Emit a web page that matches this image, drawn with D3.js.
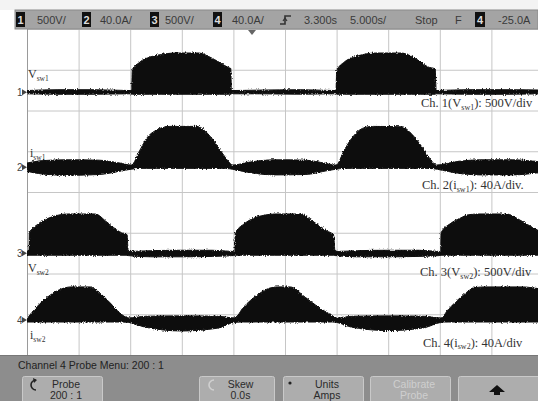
<!DOCTYPE html>
<html><head><meta charset="utf-8">
<script src="https://cdn.jsdelivr.net/npm/d3@7"></script>
<style>body{margin:0;background:#fff;overflow:hidden}svg{display:block}</style>
</head><body><svg id="c" width="538" height="401"></svg>
<script>
// ---------- DATA ----------
const timeDivisions = [0,1,2,3,4,5,6,7,8,9,10];
const levelDivisions = [-4,-3,-2,-1,0,1,2,3,4];
const channelNames = ["1","2","3","4"];
const channelOffsets = [2.45, 0.61, -1.5, -3.14];      // ground level (divisions)
const channelSymbols = ["V","i","V","i"];
const channelSubs = ["sw1","sw1","sw2","sw2"];
const channelScales = ["500V/div","40A/div.","500V/div","40A/div"];
const topBarScales = ["500V/","40.0A/","500V/","40.0A/"];
const timeTexts = ["3.300s","5.000s/","Stop","F"];
const triggerChannel = "4";
const triggerLevel = "-25.0A";
const menuTitle = "Channel 4  Probe Menu: 200 : 1";
const softKeys = [["Probe","200 : 1"],["Skew","0.0s"],["Units","Amps"],["Calibrate","Probe"],["",""]];

// envelopes: [time (div), upper (div), lower (div)] relative to channel ground
const ch1Envelope = [
 [0,0.04,-0.04],[0.6,0.06,-0.05],[1.3,0.06,-0.05],[2.0,0.04,-0.04],
 [2.03,0.04,-0.05],[2.04,0.52,-0.05],[2.19,0.74,-0.05],[2.38,0.86,-0.05],[2.58,0.92,-0.05],[2.88,0.96,-0.05],[3.33,0.96,-0.05],[3.53,0.87,-0.05],[3.73,0.73,-0.05],[3.91,0.6,-0.05],[3.95,0.58,-0.05],[3.96,0.04,-0.04],
 [4.5,0.05,-0.04],[5.3,0.06,-0.05],[5.97,0.04,-0.04],
 [5.99,0.04,-0.05],[6.0,0.52,-0.05],[6.15,0.74,-0.05],[6.34,0.86,-0.05],[6.54,0.93,-0.05],[6.75,0.96,-0.05],[7.25,0.96,-0.05],[7.45,0.88,-0.05],[7.62,0.75,-0.05],[7.77,0.62,-0.05],[7.91,0.57,-0.05],[7.93,0.04,-0.04],
 [8.5,0.06,-0.05],[9.3,0.06,-0.05],[10,0.05,-0.04]
];
const ch2Envelope = [
 [0,0.1,-0.1],[0.3,0.16,-0.17],[0.8,0.18,-0.2],[1.4,0.17,-0.18],[1.8,0.1,-0.1],[2.02,0.05,-0.05],
 [2.19,0.42,-0.03],[2.32,0.71,-0.03],[2.51,0.91,-0.03],[2.77,1.0,-0.03],[3.29,1.0,-0.03],[3.58,0.71,-0.03],[3.77,0.37,-0.03],[3.93,0.1,-0.04],[3.98,0.05,-0.05],
 [4.3,0.12,-0.13],[4.8,0.18,-0.19],[5.4,0.17,-0.18],[5.8,0.09,-0.09],[5.99,0.05,-0.05],
 [6.15,0.42,-0.03],[6.29,0.7,-0.03],[6.5,0.95,-0.03],[6.7,1.0,-0.03],[7.25,0.99,-0.03],[7.5,0.75,-0.03],[7.65,0.5,-0.03],[7.8,0.22,-0.03],[7.94,0.05,-0.05],
 [8.3,0.13,-0.14],[8.8,0.18,-0.19],[9.4,0.18,-0.19],[10,0.12,-0.12]
];
const ch3Envelope = [
 [0,0.04,-0.05],[0.04,0.04,-0.05],[0.045,0.49,-0.05],[0.2,0.7,-0.05],[0.4,0.85,-0.05],[0.6,0.93,-0.05],[0.78,0.96,-0.05],[1.32,0.96,-0.05],[1.55,0.76,-0.05],[1.8,0.52,-0.05],[1.94,0.45,-0.05],[1.96,0.04,-0.06],
 [2.4,0.06,-0.09],[3.0,0.07,-0.09],[3.6,0.07,-0.08],[4.0,0.04,-0.06],
 [4.03,0.04,-0.05],[4.035,0.49,-0.05],[4.2,0.71,-0.05],[4.4,0.86,-0.05],[4.6,0.93,-0.05],[4.8,0.96,-0.05],[5.3,0.96,-0.05],[5.52,0.8,-0.05],[5.8,0.55,-0.05],[5.94,0.45,-0.05],[5.97,0.04,-0.06],
 [6.4,0.06,-0.09],[7.0,0.07,-0.09],[7.6,0.07,-0.08],[8.0,0.04,-0.06],
 [8.02,0.04,-0.05],[8.025,0.5,-0.05],[8.2,0.72,-0.05],[8.4,0.86,-0.05],[8.55,0.94,-0.05],[8.75,0.96,-0.05],[9.3,0.96,-0.05],[9.5,0.85,-0.05],[9.7,0.7,-0.05],[9.9,0.56,-0.05],[10,0.5,-0.05]
];
const ch4Envelope = [
 [0,0.03,-0.05],[0.19,0.32,-0.05],[0.45,0.61,-0.05],[0.74,0.79,-0.05],[0.85,0.81,-0.05],[1.22,0.81,-0.05],[1.41,0.66,-0.05],[1.61,0.42,-0.05],[1.8,0.17,-0.05],[1.97,0.05,-0.06],
 [2.3,0.09,-0.18],[3.0,0.1,-0.27],[3.7,0.09,-0.2],[4.02,0.05,-0.06],
 [4.2,0.32,-0.05],[4.45,0.6,-0.05],[4.7,0.78,-0.05],[4.85,0.81,-0.05],[5.1,0.81,-0.05],[5.39,0.56,-0.05],[5.64,0.32,-0.05],[5.9,0.12,-0.05],[6.0,0.05,-0.06],
 [6.3,0.09,-0.18],[7.0,0.1,-0.26],[7.7,0.09,-0.19],[8.02,0.05,-0.06],
 [8.16,0.25,-0.05],[8.41,0.56,-0.05],[8.68,0.79,-0.05],[8.85,0.81,-0.05],[9.6,0.81,-0.05],[10,0.74,-0.05]
];
const envelopes = [ch1Envelope, ch2Envelope, ch3Envelope, ch4Envelope];

// ---------- DRAW ----------
const svg = d3.select("#c");
const W = 538, H = 401;
const plot = {left:27, right:543, top:29, bottom:355};
const x = d3.scaleLinear().domain([0,10]).range([plot.left, plot.right]);
const y = d3.scaleLinear().domain([-4,4]).range([plot.bottom, plot.top]);

const defs = svg.append("defs");
const f = defs.append("filter").attr("id","fz").attr("x","-2%").attr("y","-30%").attr("width","104%").attr("height","160%");
f.append("feTurbulence").attr("type","fractalNoise").attr("baseFrequency","0.9 0.6").attr("numOctaves",2).attr("seed",4).attr("result","n");
f.append("feDisplacementMap").attr("in","SourceGraphic").attr("in2","n").attr("scale",3.2).attr("xChannelSelector","R").attr("yChannelSelector","G");
defs.append("clipPath").attr("id","pc").append("rect").attr("x",plot.left).attr("y",plot.top).attr("width",W-plot.left).attr("height",plot.bottom-plot.top);

svg.append("rect").attr("width",W).attr("height",H).attr("fill","#fff");

// grid
const gx = svg.append("g").attr("transform",`translate(0,${plot.bottom})`)
  .call(d3.axisBottom(x).tickValues(timeDivisions).tickSize(-(plot.bottom-plot.top)).tickFormat(""));
gx.select(".domain").remove();
gx.selectAll("line").attr("stroke","#c6c6c6").attr("stroke-width",1);
const gy = svg.append("g").attr("transform",`translate(${plot.left},0)`)
  .call(d3.axisLeft(y).tickValues(levelDivisions).tickSize(-(plot.right-plot.left)).tickFormat(""));
gy.select(".domain").remove();
gy.selectAll("line").attr("stroke","#c6c6c6").attr("stroke-width",1);
svg.append("line").attr("x1",plot.left+0.5).attr("x2",plot.left+0.5).attr("y1",plot.top).attr("y2",plot.bottom).attr("stroke","#9a9a9a");

// waveforms
const wg = svg.append("g").attr("clip-path","url(#pc)").append("g").attr("filter","url(#fz)");
envelopes.forEach((env,i)=>{
  const off = channelOffsets[i];
  const area = d3.area().curve(d3.curveMonotoneX)
    .x(d=>x(d[0])).y0(d=>y(off+d[2])).y1(d=>y(off+d[1]));
  wg.append("path").datum(env).attr("d",area).attr("fill","#0a0a0a").attr("stroke","#0a0a0a").attr("stroke-width",1);
});

// ground markers
channelNames.forEach((n,i)=>{
  const gyv = y(channelOffsets[i]);
  svg.append("text").attr("x",17).attr("y",gyv+4).attr("font-family","Liberation Sans, Arial").attr("font-size",10).attr("fill","#444").text(n);
  svg.append("path").attr("d",`M${22},${gyv-3}L${27},${gyv}L${22},${gyv+3}Z`).attr("fill","#444");
});

// left labels (serif)
const leftDy = [-14,-10,19,19];
const leftDx = [28,30,28,30];
channelSymbols.forEach((s,i)=>{
  const t = svg.append("text").attr("x",leftDx[i]).attr("y",y(channelOffsets[i])+leftDy[i])
    .attr("font-family","Liberation Serif, Times New Roman, serif").attr("font-size",12).attr("fill","#333");
  t.append("tspan").text(s);
  t.append("tspan").attr("font-size",7.5).attr("dy",3).text(channelSubs[i]);
});

// right labels
const rightDy = [15,22,23,27];
const rightX = [421,422,420,423];
channelNames.forEach((n,i)=>{
  const t = svg.append("text").attr("x",rightX[i]).attr("y",y(channelOffsets[i])+rightDy[i])
    .attr("font-family","Liberation Serif, Times New Roman, serif").attr("font-size",12.5).attr("fill","#333");
  t.append("tspan").text(`Ch. ${n}(${channelSymbols[i]}`);
  t.append("tspan").attr("font-size",8).attr("dy",2.5).text(channelSubs[i]);
  t.append("tspan").attr("dy",-2.5).text(`): ${channelScales[i]}`);
});

// trigger position marker
svg.append("path").attr("d","M248,30L256,30L252,35Z").attr("fill","#666");

// top bar
svg.append("rect").attr("x",0).attr("y",0).attr("width",W).attr("height",10).attr("fill","#f3f3f3");
svg.append("rect").attr("x",15).attr("y",10).attr("width",W-15).attr("height",19).attr("fill","#a4a4a4").attr("stroke","#8a8a8a");
const sans = "Liberation Sans, Arial, sans-serif";
const boxX = [16,82,150,213];
const lblX = [37,100,165,232];
channelNames.forEach((n,i)=>{
  svg.append("rect").attr("x",boxX[i]).attr("y",12).attr("width",9).attr("height",15).attr("fill","#111");
  svg.append("text").attr("x",boxX[i]+4.5).attr("y",24).attr("text-anchor","middle").attr("font-family",sans).attr("font-weight","bold").attr("font-size",11).attr("fill","#ddd").text(n);
  svg.append("text").attr("x",lblX[i]).attr("y",24).attr("font-family",sans).attr("font-size",11).attr("fill","#3a3a3a").text(topBarScales[i]);
});
// trigger edge icon
svg.append("path").attr("d","M280,24L285,24L285,16L291,16").attr("fill","none").attr("stroke","#333").attr("stroke-width",1.6);
svg.append("path").attr("d","M283,21L285,18L287,21").attr("fill","none").attr("stroke","#333").attr("stroke-width",1.2);
const ttX = [304,350,415,455];
timeTexts.forEach((t,i)=>{
  svg.append("text").attr("x",ttX[i]).attr("y",24).attr("font-family",sans).attr("font-size",11).attr("fill","#3a3a3a").text(t);
});
svg.append("rect").attr("x",475).attr("y",12).attr("width",10).attr("height",15).attr("fill","#111");
svg.append("text").attr("x",480).attr("y",24).attr("text-anchor","middle").attr("font-family",sans).attr("font-weight","bold").attr("font-size",11).attr("fill","#ddd").text(triggerChannel);
svg.append("text").attr("x",498).attr("y",24).attr("font-family",sans).attr("font-size",11).attr("fill","#3a3a3a").text(triggerLevel);

// bottom panel
svg.append("rect").attr("x",0).attr("y",plot.bottom).attr("width",W).attr("height",H-plot.bottom).attr("fill","#8d8d8d");
svg.append("line").attr("x1",0).attr("x2",W).attr("y1",plot.bottom+0.5).attr("y2",plot.bottom+0.5).attr("stroke","#777");
svg.append("text").attr("x",18).attr("y",369).attr("font-family",sans).attr("font-size",10.5).attr("fill","#222").text(menuTitle);
const keyX = [[22,102],[199,274],[283,363],[370,450],[458,540]];
softKeys.forEach((k,i)=>{
  const [a,b] = keyX[i];
  svg.append("rect").attr("x",a+0.5).attr("y",376.5).attr("width",b-a).attr("height",30).attr("rx",2)
    .attr("fill","#adadad").attr("stroke","#c9c9c9");
  const cx = (a+b)/2 + (i===4?0:4);
  const col = i===3 ? "#cfcfcf" : "#2a2a2a";
  svg.append("text").attr("x",cx).attr("y",388).attr("text-anchor","middle").attr("font-family",sans).attr("font-size",10.5).attr("fill",col).text(k[0]);
  svg.append("text").attr("x",cx).attr("y",399).attr("text-anchor","middle").attr("font-family",sans).attr("font-size",10.5).attr("fill",col).text(k[1]);
});
// soft key icons
svg.append("path").attr("d","M36,380 A5,5 0 1 0 36,390").attr("fill","none").attr("stroke","#222").attr("stroke-width",1.6);
svg.append("path").attr("d","M33,378L37,380L34,383Z").attr("fill","#222");
svg.append("path").attr("d","M214,380 A5,5 0 1 0 214,390").attr("fill","none").attr("stroke","#d0d0d0").attr("stroke-width",1.6);
svg.append("circle").attr("cx",290).attr("cy",383).attr("r",1.6).attr("fill","#222");
svg.append("path").attr("d","M489,392L497,385L505,392L500,392L500,395L494,395L494,392Z").attr("fill","#111");
</script>
</body></html>
